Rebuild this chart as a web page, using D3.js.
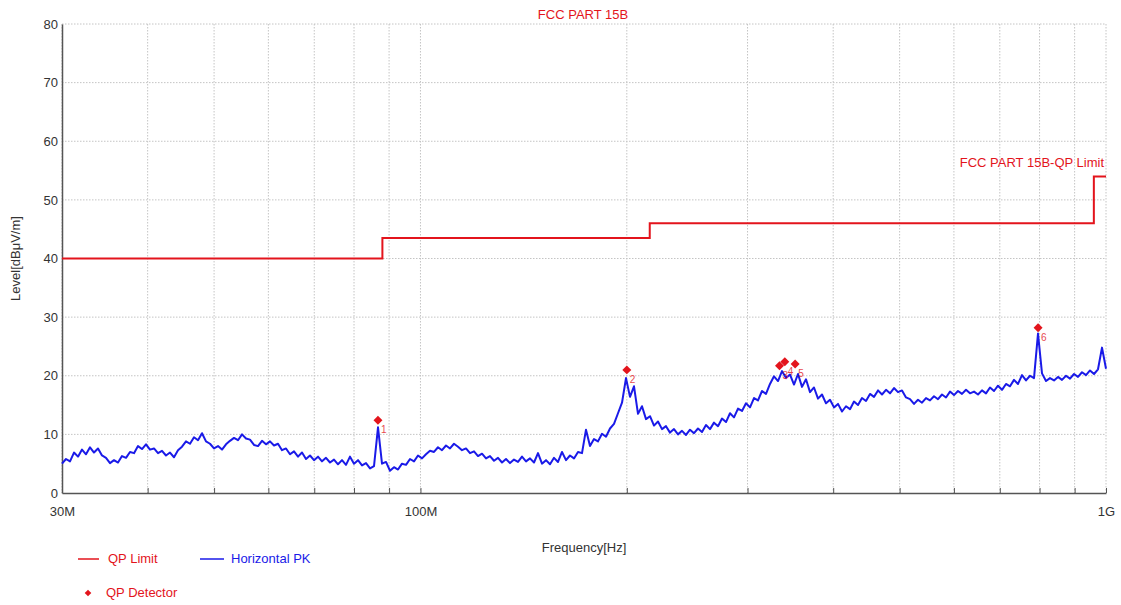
<!DOCTYPE html>
<html>
<head>
<meta charset="utf-8">
<script src="https://cdn.jsdelivr.net/npm/d3@7"></script>
<style>
	body { margin: 0; background: #fff; }
	text { font-family: 'Liberation Sans', Arial, sans-serif; }
</style>
</head>
<body>
<script>

// Sweep van de ontvanger, log verdeeld van start tot stop (MHz)
const sweepStart = 30,
	sweepStop = 1000,

	pkLevels = [
		5.0, 5.8, 5.4, 6.9, 6.2, 7.4, 6.6, 7.8, 6.9, 7.6,
		6.4, 6.0, 5.1, 5.6, 5.2, 6.3, 6.0, 7.0, 6.8, 8.0,
		7.5, 8.3, 7.4, 7.6, 6.8, 7.2, 6.4, 6.9, 6.1, 7.3,
		7.9, 8.8, 8.4, 9.5, 9.0, 10.2, 8.8, 8.4, 7.6, 8.0,
		7.4, 8.3, 8.9, 9.4, 9.0, 10.0, 9.3, 9.1, 8.2, 8.0,
		8.9, 8.3, 8.8, 8.1, 8.4, 7.3, 7.6, 6.6, 7.1, 6.2,
		6.9, 5.8, 6.4, 5.6, 6.2, 5.4, 6.0, 5.2, 5.7, 4.9,
		5.6, 4.8, 6.2, 5.0, 5.6, 4.7, 5.1, 4.2, 4.6, 11.2,
		5.0, 5.3, 3.8, 4.4, 4.0, 5.0, 4.8, 5.8, 5.4, 6.4,
		5.9, 6.6, 7.2, 7.0, 7.8, 7.3, 8.1, 7.6, 8.4, 7.9,
		7.3, 7.6, 6.8, 7.1, 6.3, 6.7, 5.9, 6.3, 5.5, 6.0,
		5.2, 5.8, 5.1, 5.7, 5.3, 6.2, 5.4, 5.9, 5.2, 6.8,
		5.0, 5.6, 4.9, 6.0, 5.3, 7.0, 5.6, 6.4, 5.9, 7.0,
		6.8, 10.8, 8.0, 9.2, 8.8, 10.1, 9.6, 11.0, 11.8, 13.6,
		15.4, 19.6, 16.4, 18.2, 13.5, 14.8, 12.6, 13.1, 11.5, 12.2,
		10.9, 11.4, 10.3, 10.9, 10.0, 10.6, 9.9, 10.8, 10.2, 11.0,
		10.4, 11.6, 10.9, 12.0, 11.4, 12.7, 12.1, 13.6, 12.9, 14.4,
		14.0, 15.3, 14.6, 16.2, 15.8, 17.4, 16.9, 18.6, 19.9, 19.1,
		20.8, 19.6, 20.2, 18.5, 20.3, 18.1, 19.4, 17.2, 18.0, 16.1,
		16.8, 15.3, 15.9, 14.6, 15.2, 13.9, 14.8, 14.3, 15.6, 15.0,
		16.2, 15.7, 16.9, 16.4, 17.5, 16.8, 17.6, 17.0, 17.9, 17.2,
		17.5, 16.3, 16.0, 15.2, 15.9, 15.4, 16.2, 15.8, 16.5, 16.0,
		16.8, 16.3, 17.3, 16.7, 17.4, 16.9, 17.6, 17.0, 17.3, 16.8,
		17.5, 17.0, 18.0, 17.4, 18.3, 17.6, 18.6, 18.2, 19.3, 18.6,
		20.1, 19.2, 20.0, 19.6, 27.2, 20.4, 19.1, 19.6, 19.2, 19.8,
		19.3, 20.0, 19.5, 20.3, 19.8, 20.6, 20.1, 20.9, 20.3, 21.1,
		24.8, 21.2
	],

	// FCC part 15B klasse B QP limiet (trap)
	limitFreqs = [ 30, 88, 216, 960, 1000 ],
	limitLevels = [ 40, 43.5, 46, 54, 54 ],

	// QP detector metingen
	qpFreqs = [ 86.7, 200, 334, 340, 352, 796 ],
	qpLevels = [ 12.4, 21.0, 21.7, 22.4, 22.0, 28.2 ],
	qpLabels = [ '1', '2', '3', '4', '5', '6' ],

	xGrid = [ 30, 40, 50, 60, 70, 80, 90, 100, 200, 300, 400, 500, 600, 700, 800, 900, 1000 ],
	xTickLabels = { 30: '30M', 100: '100M', 1000: '1G' },
	yTicks = [ 0, 10, 20, 30, 40, 50, 60, 70, 80 ]

const red = '#e3141c',
	blue = '#1a1ae8',
	plotLeft = 62,
	plotRight = 1106,
	plotTop = 24,
	plotBottom = 493

const svg = d3.select( 'body' )
	.append( 'svg' )
	.attr( 'width', 1121 )
	.attr( 'height', 605 )

const x = d3.scaleLog()
		.domain( [ sweepStart, sweepStop ] )
		.range( [ plotLeft, plotRight ] ),

	y = d3.scaleLinear()
		.domain( [ 0, 80 ] )
		.range( [ plotBottom, plotTop ] )

// Grid (gestippeld)
svg.append( 'g' )
	.selectAll( 'line' )
	.data( xGrid )
	.enter()
	.append( 'line' )
	.attr( 'x1', d => x( d ) )
	.attr( 'x2', d => x( d ) )
	.attr( 'y1', plotTop )
	.attr( 'y2', plotBottom )
	.attr( 'stroke', '#c4c4c4' )
	.attr( 'stroke-dasharray', '1.5,1.5' )

svg.append( 'g' )
	.selectAll( 'line' )
	.data( yTicks.slice( 1 ) )
	.enter()
	.append( 'line' )
	.attr( 'x1', plotLeft )
	.attr( 'x2', plotRight )
	.attr( 'y1', d => y( d ) )
	.attr( 'y2', d => y( d ) )
	.attr( 'stroke', '#c4c4c4' )
	.attr( 'stroke-dasharray', '1.5,1.5' )

// Assen
const xAxis = svg.append( 'g' )
	.attr( 'transform', `translate( 0, ${ plotBottom } )` )
	.call( d3.axisBottom( x )
		.tickValues( xGrid )
		.tickSize( -5 )
		.tickSizeOuter( 0 )
		.tickPadding( 14 )
		.tickFormat( d => xTickLabels[ d ] || '' ) )

xAxis.select( '.domain' ).attr( 'stroke', '#555' ).attr( 'stroke-width', 1.5 )
xAxis.selectAll( '.tick line' ).attr( 'stroke', '#555' )
xAxis.selectAll( 'text' )
	.attr( 'font-size', 13 )
	.attr( 'fill', '#333' )
	.style( 'font-family', "'Liberation Sans', Arial, sans-serif" )

const yAxis = svg.append( 'g' )
	.attr( 'transform', `translate( ${ plotLeft }, 0 )` )
	.call( d3.axisLeft( y )
		.tickValues( yTicks )
		.tickSize( 0 )
		.tickPadding( 4 ) )

yAxis.select( '.domain' ).attr( 'stroke', '#555' ).attr( 'stroke-width', 1.5 )
yAxis.selectAll( 'text' )
	.attr( 'font-size', 13 )
	.attr( 'fill', '#333' )
	.style( 'font-family', "'Liberation Sans', Arial, sans-serif" )

// Limiet lijn
const limitData = limitFreqs.map( ( f, i ) => ( { f, v: limitLevels[ i ] } ) )

svg.append( 'path' )
	.datum( limitData )
	.attr( 'fill', 'none' )
	.attr( 'stroke', red )
	.attr( 'stroke-width', 2 )
	.attr( 'd', d3.line()
		.curve( d3.curveStepAfter )
		.x( d => x( d.f ) )
		.y( d => y( d.v ) ) )

// Horizontal PK spoor
const ratio = sweepStop / sweepStart,
	pkData = pkLevels.map( ( v, i ) => ( {
		f: sweepStart * Math.pow( ratio, i / ( pkLevels.length - 1 ) ),
		v
	} ) )

svg.append( 'path' )
	.datum( pkData )
	.attr( 'fill', 'none' )
	.attr( 'stroke', blue )
	.attr( 'stroke-width', 2 )
	.attr( 'stroke-linejoin', 'round' )
	.attr( 'd', d3.line()
		.x( d => x( d.f ) )
		.y( d => y( d.v ) ) )

// QP punten (vierkant op z'n punt)
const diamond = d3.symbol().type( d3.symbolSquare ).size( 40 )

const qp = svg.append( 'g' )
	.selectAll( 'g' )
	.data( qpFreqs.map( ( f, i ) => ( { f, v: qpLevels[ i ], label: qpLabels[ i ] } ) ) )
	.enter()
	.append( 'g' )
	.attr( 'transform', d => `translate( ${ x( d.f ) }, ${ y( d.v ) } )` )

qp.append( 'path' )
	.attr( 'd', diamond )
	.attr( 'transform', 'rotate( 45 )' )
	.attr( 'fill', red )

qp.append( 'text' )
	.attr( 'x', 3 )
	.attr( 'y', 13 )
	.attr( 'font-size', 10 )
	.attr( 'fill', red )
	.attr( 'opacity', 0.8 )
	.text( d => d.label )

// Teksten
svg.append( 'text' )
	.attr( 'x', 583 )
	.attr( 'y', 19 )
	.attr( 'text-anchor', 'middle' )
	.attr( 'font-size', 13 )
	.attr( 'fill', red )
	.text( 'FCC PART 15B' )

svg.append( 'text' )
	.attr( 'x', 1104 )
	.attr( 'y', 167 )
	.attr( 'text-anchor', 'end' )
	.attr( 'font-size', 13 )
	.attr( 'fill', red )
	.text( 'FCC PART 15B-QP Limit' )

svg.append( 'text' )
	.attr( 'transform', `translate( 20, ${ ( plotTop + plotBottom ) / 2 } ) rotate( -90 )` )
	.attr( 'text-anchor', 'middle' )
	.attr( 'font-size', 13 )
	.attr( 'fill', '#333' )
	.text( 'Level[dBμV/m]' )

svg.append( 'text' )
	.attr( 'x', 584 )
	.attr( 'y', 552 )
	.attr( 'text-anchor', 'middle' )
	.attr( 'font-size', 13 )
	.attr( 'fill', '#333' )
	.text( 'Frequency[Hz]' )

// Legenda
const legend = svg.append( 'g' )

legend.append( 'line' )
	.attr( 'x1', 78 ).attr( 'x2', 99 )
	.attr( 'y1', 559 ).attr( 'y2', 559 )
	.attr( 'stroke', red )
	.attr( 'stroke-width', 1.5 )

legend.append( 'text' )
	.attr( 'x', 108 ).attr( 'y', 563 )
	.attr( 'font-size', 13 )
	.attr( 'fill', red )
	.text( 'QP Limit' )

legend.append( 'line' )
	.attr( 'x1', 200 ).attr( 'x2', 224 )
	.attr( 'y1', 559 ).attr( 'y2', 559 )
	.attr( 'stroke', blue )
	.attr( 'stroke-width', 1.5 )

legend.append( 'text' )
	.attr( 'x', 231 ).attr( 'y', 563 )
	.attr( 'font-size', 13 )
	.attr( 'fill', blue )
	.text( 'Horizontal PK' )

legend.append( 'path' )
	.attr( 'd', d3.symbol().type( d3.symbolSquare ).size( 22 ) )
	.attr( 'transform', 'translate( 88, 593 ) rotate( 45 )' )
	.attr( 'fill', red )

legend.append( 'text' )
	.attr( 'x', 106 ).attr( 'y', 597 )
	.attr( 'font-size', 13 )
	.attr( 'fill', red )
	.text( 'QP Detector' )

</script>
</body>
</html>
